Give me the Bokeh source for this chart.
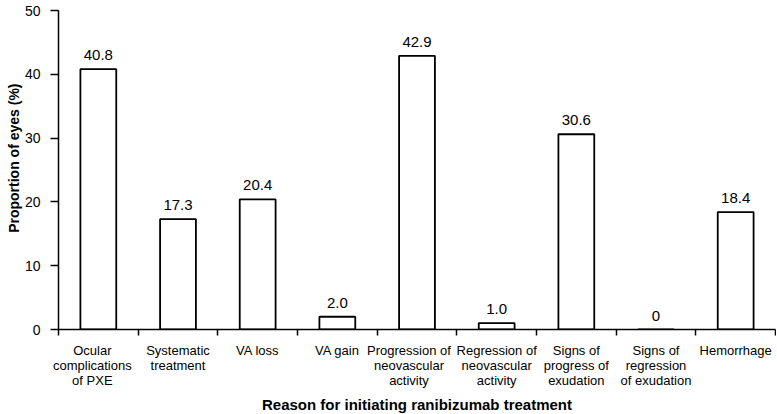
from bokeh.plotting import figure
from bokeh.models import Range1d, FixedTicker, ColumnDataSource, Title
from bokeh.embed import file_html
from bokeh.resources import INLINE
from bokeh.core.properties import value

categories = [
    "Ocular\ncomplications\nof PXE",
    "Systematic\ntreatment",
    "VA loss",
    "VA gain",
    "Progression of\nneovascular\nactivity",
    "Regression of\nneovascular\nactivity",
    "Signs of\nprogress of\nexudation",
    "Signs of\nregression\nof exudation",
    "Hemorrhage",
]
values = [40.8, 17.3, 20.4, 2.0, 42.9, 1.0, 30.6, 0, 18.4]
value_labels = ["40.8", "17.3", "20.4", "2.0", "42.9", "1.0", "30.6", "0", "18.4"]
y_ticks = [0, 10, 20, 30, 40, 50]

# style: horizontal nudge (pixels) of some category labels to avoid overlaps
label_nudge_px = [-6, 0, 0, 0, -8, 0, 0, 0, 0]

FRAME_W = 717
FRAME_H = 319

n = len(categories)
centers = [i + 0.5 for i in range(n)]
bounds = list(range(n + 1))
px_per_unit = FRAME_W / n
label_pos = [c + d / px_per_unit for c, d in zip(centers, label_nudge_px)]

src = ColumnDataSource(dict(x=centers, top=values, lab=value_labels))

FONT = "Liberation Sans"

p = figure(frame_width=FRAME_W, frame_height=FRAME_H, output_backend="svg", toolbar_location=None,
           x_range=Range1d(0, n), y_range=Range1d(0, 50),
           min_border_left=58, min_border_right=1, min_border_top=10, min_border_bottom=0)
p.outline_line_color = None
p.xgrid.grid_line_color = None
p.ygrid.grid_line_color = None
p.background_fill_color = "white"
p.border_fill_color = "white"

p.vbar(x="x", top="top", bottom=0, width=0.45, source=src,
       fill_color="white", line_color="black", line_width=1.8)
p.text(x="x", y="top", text="lab", source=src, text_align="center",
       text_baseline="alphabetic", y_offset=-14, text_font=value(FONT),
       text_font_size="15px", text_color="black")

xa = p.xaxis[0]
xa.ticker = FixedTicker(ticks=label_pos, minor_ticks=bounds)
xa.major_label_overrides = {pos: lab for pos, lab in zip(label_pos, categories)}
xa.major_tick_out = 0
xa.major_tick_in = 0
xa.minor_tick_out = 6
xa.minor_tick_in = 0
xa.minor_tick_line_color = "black"
xa.minor_tick_line_width = 1.5
xa.axis_line_color = "black"
xa.axis_line_width = 1.5
xa.major_label_text_font = FONT
xa.major_label_text_font_size = "13px"
xa.major_label_text_line_height = 1.0
xa.major_label_text_color = "black"
xa.major_label_standoff = 7
xa.axis_label = "Reason for initiating ranibizumab treatment"
xa.axis_label_text_font = FONT
xa.axis_label_text_font_size = "15px"
xa.axis_label_text_font_style = "bold"
xa.axis_label_text_color = "black"
xa.axis_label_standoff = 5

ya = p.yaxis[0]
ya.ticker = FixedTicker(ticks=y_ticks)
ya.major_tick_out = 8
ya.major_tick_in = 0
ya.minor_tick_out = 0
ya.minor_tick_in = 0
ya.major_tick_line_color = "black"
ya.major_tick_line_width = 1.5
ya.axis_line_color = "black"
ya.axis_line_width = 1.5
ya.major_label_text_font = FONT
ya.major_label_text_font_size = "14px"
ya.major_label_text_color = "black"
ya.major_label_standoff = 10

ytitle = Title(text="Proportion of eyes (%)", align="right", offset=73, standoff=0,
               text_font=FONT, text_font_size="14px", text_font_style="bold",
               text_color="black")
p.add_layout(ytitle, "left")

open("out.html", "w").write(file_html(p, INLINE))
